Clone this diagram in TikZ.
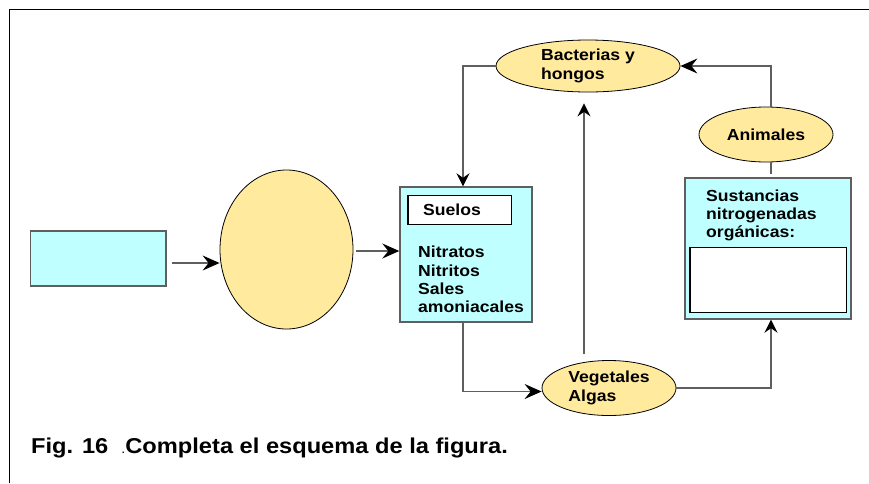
\documentclass[tikz,border=0pt]{standalone}
\usepackage{fontspec}
\setmainfont{Liberation Sans}[FakeStretch=1.1]
\usepackage{tikz}
\usetikzlibrary{arrows.meta,shapes.geometric,positioning}
\definecolor{celeste}{RGB}{192,255,255}
\definecolor{amarillo}{RGB}{255,234,158}
\definecolor{gris}{RGB}{95,95,95}

\begin{document}
\begin{tikzpicture}[x=1pt,y=-1pt,
  caja/.style={draw=gris,line width=1.4pt,fill=celeste,inner sep=0pt},
  blanca/.style={draw=black,line width=1.1pt,fill=white,inner sep=0pt},
  elipse/.style={ellipse,draw=black,line width=0.8pt,fill=amarillo,inner sep=0pt,
    font=\bfseries\fontsize{16}{19}\selectfont,align=left},
  texto/.style={inner sep=0pt,font=\bfseries\fontsize{16}{18.3}\selectfont,align=left},
  flecha/.style={draw=gris,line width=1.3pt,-{Stealth[length=17pt,width=15pt,inset=6pt,color=black]}},
  flechita/.style={draw=gris,line width=1.3pt,-{Stealth[length=13pt,width=13pt,inset=4.5pt,color=black]}}]
\useasboundingbox (0,0) rectangle (869,483);
\draw[line width=1.3pt] (9.5,483) -- (9.5,9.5) -- (869,9.5);

\node[caja,minimum width=135.5pt,minimum height=55pt] (fuente) at (98.25,258.5) {};
\node[elipse,minimum width=133pt,minimum height=159pt] (proceso) at (286.5,249.5) {};
\node[caja,minimum width=132pt,minimum height=135pt] (suelos) at (466,254.5) {};
\node[blanca,minimum width=103.5pt,minimum height=28.5pt] (suelostit) at (459.75,209.85) {};
\node[texto,anchor=base west] (suelostxt) at (423,215) {Suelos};
\node[texto,anchor=base west] (sales) at (418,312.7) {Nitratos\\Nitritos\\Sales\\amoniacales};

\node[elipse,minimum width=184pt,minimum height=52pt] (bacterias) at (588,66) {Bacterias y\\hongos};
\node[elipse,minimum width=134pt,minimum height=55pt] (animales) at (766,134.5) {Animales};
\node[elipse,minimum width=134pt,minimum height=55pt] (vegetales) at (609,388) {Vegetales\\Algas};

\node[caja,minimum width=166pt,minimum height=141pt] (sustancias) at (768,248.5) {};
\node[blanca,minimum width=156.7pt,minimum height=65pt] (organicas) at (768.35,279.8) {};
\node[texto,anchor=base west] (sustanciastxt) at (706,237.7) {Sustancias\\nitrogenadas\\orgánicas:};

\draw[flecha,shorten <=5pt] ([yshift=-4.5pt]fuente.east) -- ([yshift=-4.5pt]fuente.east -| proceso.west);
\draw[flecha,shorten <=3pt] ([yshift=-1.5pt]proceso.east) -- ([yshift=-1.5pt]proceso.east -| suelos.west);
\draw[flechita] (bacterias.west) -| ([xshift=-3pt]suelos.north);
\draw[flecha] ([xshift=-3pt]suelos.south) |- ([yshift=-3.5pt]vegetales.west);
\draw[flechita,shorten <=6pt,shorten >=11pt] ([xshift=-25pt]vegetales.north) -- ([xshift=-25pt]vegetales.north |- bacterias.south);
\draw[flechita] (vegetales.east) -| ([xshift=3pt]sustancias.south);
\draw[flecha] ([xshift=5pt]animales.north) |- (bacterias.east);
\draw[draw=gris,line width=1.3pt,shorten >=3pt] ([xshift=5pt]animales.south) -- ([xshift=3pt]sustancias.north);

\node[inner sep=0pt,anchor=base west,font=\bfseries\fontsize{21.5}{24}\selectfont] (pie) at (31,453.3)
  {Fig. 16\ \ {\mdseries\fontsize{13}{13}\selectfont.}Completa el esquema de la figura.};
\end{tikzpicture}
\end{document}
